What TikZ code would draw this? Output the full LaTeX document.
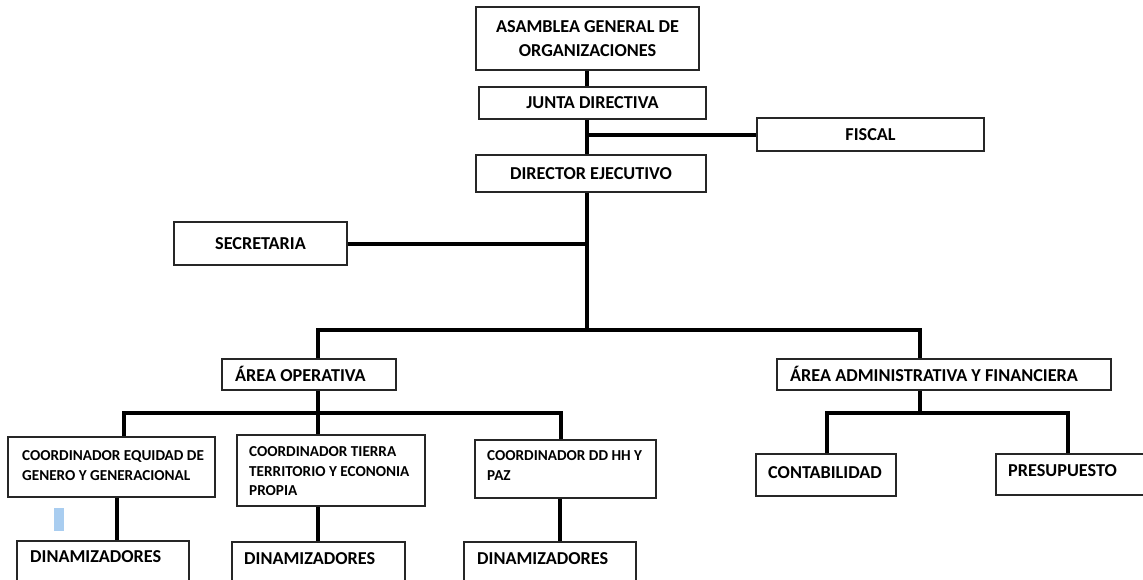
\documentclass[tikz,border=0pt]{standalone}
\usepackage{fontspec}
\setmainfont{Carlito}
\begin{document}
\begin{tikzpicture}[x=1pt,y=-1pt,
  box/.style={draw=black!85, line width=1.3pt, inner sep=0pt, fill=white},
  txtbig/.style={font=\bfseries\fontsize{18.2}{24}\selectfont, text=black},
  txtsmall/.style={font=\bfseries\fontsize{15.2}{20.5}\selectfont, text=black},
  lbl/.style={inner sep=0pt, anchor=west, align=left},
  conn/.style={line width=4pt, draw=black, line join=miter}]
\useasboundingbox (0,0) rectangle (1143,579);
\clip (0,0) rectangle (1143,579);

% top boxes
\node[box,txtbig,align=center,minimum width=223pt,minimum height=63pt] (asam) at (587.5,38.5) {ASAMBLEA GENERAL DE\\ORGANIZACIONES};
\node[box,txtbig,minimum width=227pt,minimum height=32pt] (junta) at (592.5,103) {JUNTA DIRECTIVA};
\node[box,txtbig,minimum width=227pt,minimum height=33pt] (fiscal) at (870.5,134.5) {FISCAL};
\node[box,txtbig,minimum width=230pt,minimum height=37pt] (dir) at (591,173.5) {DIRECTOR EJECUTIVO};
\node[box,txtbig,minimum width=173pt,minimum height=43pt] (secr) at (260.5,243.5) {SECRETARIA};

% areas
\node[box,minimum width=174pt,minimum height=31pt] (op) at (309,374.5) {};
\node[lbl,txtbig,anchor=base west] (opt) at (235,381) {ÁREA OPERATIVA};
\node[box,minimum width=334pt,minimum height=31pt] (adm) at (944,374.5) {};
\node[lbl,txtbig,anchor=base west] (admt) at (790,381) {ÁREA ADMINISTRATIVA Y FINANCIERA};

% coordinators
\node[box,minimum width=207pt,minimum height=60pt] (ceq) at (111.5,467) {};
\node[lbl,txtsmall] (ceqt) at (22,465.5) {COORDINADOR EQUIDAD DE\\GENERO Y GENERACIONAL};
\node[box,minimum width=188pt,minimum height=71pt] (ctt) at (331,470.5) {};
\node[lbl,font=\bfseries\fontsize{15.2}{19.5}\selectfont,text=black] (cttt) at (249,471.5) {COORDINADOR TIERRA\\TERRITORIO Y ECONONIA\\PROPIA};
\node[box,minimum width=181pt,minimum height=58pt] (cdd) at (565.5,469) {};
\node[lbl,font=\bfseries\fontsize{15.2}{20}\selectfont,text=black] (cddt) at (487,466) {COORDINADOR DD HH Y\\PAZ};

% admin children
\node[box,minimum width=140pt,minimum height=42pt] (cont) at (826,475) {};
\node[lbl,txtbig] (contt) at (768,473) {CONTABILIDAD};
\node[box,minimum width=150pt,minimum height=41pt] (pres) at (1071,474.5) {};
\node[lbl,txtbig] (prest) at (1008,471) {PRESUPUESTO};

% dinamizadores
\node[box,minimum width=172pt,minimum height=49pt] (din1) at (103,565.5) {};
\node[lbl,txtbig] (din1t) at (30,557) {DINAMIZADORES};
\node[box,minimum width=173pt,minimum height=49pt] (din2) at (318.5,566.5) {};
\node[lbl,txtbig] (din2t) at (244,559) {DINAMIZADORES};
\node[box,minimum width=172pt,minimum height=49pt] (din3) at (550,566.5) {};
\node[lbl,txtbig] (din3t) at (477,559) {DINAMIZADORES};

% small light-blue mark
\fill[fill={rgb,255:red,169;green,205;blue,240}] (54,508) rectangle (64,531);

% junction coordinates
\coordinate (hub) at (587,330);
\coordinate (b1l) at (318,330);
\coordinate (b1r) at (920,330);
\coordinate (b2l) at (124,413);
\coordinate (b2m) at (318,413);
\coordinate (b2r) at (561,413);
\coordinate (b3l) at (827,413);
\coordinate (b3m) at (920,413);
\coordinate (b3r) at (1068,413);
\coordinate (v1) at (117,520);
\coordinate (v2) at (318,520);
\coordinate (v3) at (560,520);

% connectors
\draw[conn] (hub |- asam.south) -- (hub |- junta.north);
\draw[conn] (hub |- junta.south) -- (hub |- dir.north);
\draw[conn] (hub |- fiscal.west) -- (fiscal.west);
\draw[conn] (hub |- dir.south) -- (hub);
\draw[conn] (secr.east) -- (secr.east -| hub);
\draw[conn] (b1l |- op.north) -- (b1l) -- (b1r) -- (b1r |- adm.north);
\draw[conn] (b2m |- op.south) -- (b2m |- ctt.north);
\draw[conn] (b2l |- ceq.north) -- (b2l) -- (b2r) -- (b2r |- cdd.north);
\draw[conn] (b3m |- adm.south) -- (b3m);
\draw[conn] (b3l |- cont.north) -- (b3l) -- (b3r) -- (b3r |- pres.north);
\draw[conn] (v1 |- ceq.south) -- (v1 |- din1.north);
\draw[conn] (v2 |- ctt.south) -- (v2 |- din2.north);
\draw[conn] (v3 |- cdd.south) -- (v3 |- din3.north);
\end{tikzpicture}
\end{document}
